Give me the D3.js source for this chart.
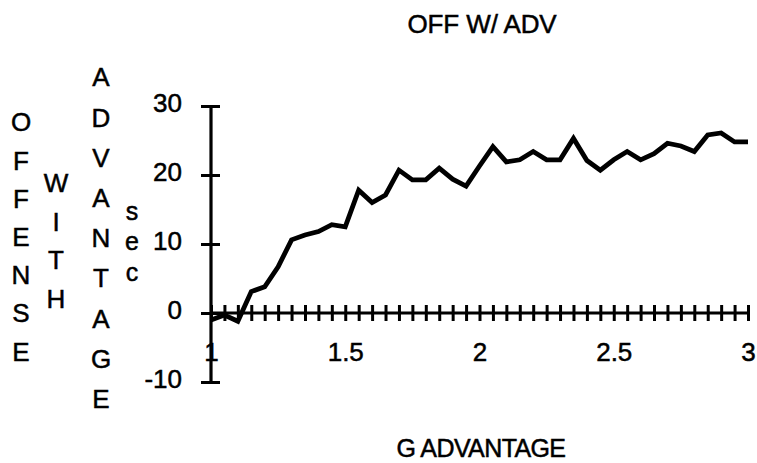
<!DOCTYPE html>
<html>
<head>
<meta charset="utf-8">
<script src="https://cdn.jsdelivr.net/npm/d3@7"></script>
<style>
  html, body { margin: 0; padding: 0; background: #fff; }
  svg text { font-family: "Liberation Sans", Arial, Helvetica, sans-serif; fill: #000; stroke: #000; stroke-width: 0.5px; }
</style>
</head>
<body>
<svg id="chart" width="757" height="463"></svg>
<script>
// G advantage sampled every 0.05 from 1 to 3
const gAdvantage = [
  1.00, 1.05, 1.10, 1.15, 1.20, 1.25, 1.30, 1.35, 1.40, 1.45,
  1.50, 1.55, 1.60, 1.65, 1.70, 1.75, 1.80, 1.85, 1.90, 1.95,
  2.00, 2.05, 2.10, 2.15, 2.20, 2.25, 2.30, 2.35, 2.40, 2.45,
  2.50, 2.55, 2.60, 2.65, 2.70, 2.75, 2.80, 2.85, 2.90, 2.95, 3.00
];
// Offense with advantage, seconds
const offenseSec = [
  -1.0, -0.3, -1.2, 3.1, 3.8, 6.7, 10.6, 11.3, 11.8, 12.8,
  12.5, 17.8, 16.0, 17.1, 20.7, 19.3, 19.3, 21.0, 19.4, 18.4,
  21.3, 24.1, 21.9, 22.2, 23.4, 22.2, 22.2, 25.3, 22.1, 20.7,
  22.2, 23.4, 22.2, 23.1, 24.6, 24.2, 23.4, 25.8, 26.1, 24.8, 24.8
];
const xLabelTicks = [1, 1.5, 2, 2.5, 3];
const yTicks = [-10, 0, 10, 20, 30];
const title = "OFF W/ ADV";
const xTitle = "G ADVANTAGE";
const yTitleColumns = ["OFFENSE", "WITH", "ADVANTAGE", "sec"];

const svg = d3.select("#chart");

const x = d3.scaleLinear().domain([1, 3]).range([211, 748]);
const y = d3.scaleLinear().domain([-10, 30]).range([382, 106]);

// X axis at zero with minor crossing ticks every 0.05
const xAxisG = svg.append("g")
  .attr("transform", `translate(0,${y(0)})`)
  .call(d3.axisBottom(x).tickValues(gAdvantage).tickSize(8).tickFormat(""));
xAxisG.select(".domain").attr("d", `M${x(1)},0H${x(3) + 2}`).attr("stroke-width", 3.2);
xAxisG.selectAll(".tick line").attr("y1", -8).attr("y2", 8).attr("stroke-width", 3);

// X tick labels below the plot
const xLabelG = svg.append("g")
  .attr("transform", `translate(0,${y(0)})`)
  .call(d3.axisBottom(x).tickValues(xLabelTicks).tickSize(0).tickPadding(30)
    .tickFormat(d => String(d)));
xLabelG.select(".domain").remove();
xLabelG.selectAll(".tick text").style("font-size", "26px");

// Y axis with ticks crossing the line
const yAxisG = svg.append("g")
  .attr("transform", `translate(${x(1)},0)`)
  .call(d3.axisLeft(y).tickValues(yTicks).tickSize(9).tickPadding(20).tickFormat(d => String(d)));
yAxisG.select(".domain").attr("d", `M0,${y(30)}V${y(-10)}`).attr("stroke-width", 3.2);
yAxisG.selectAll(".tick line").attr("x1", -10).attr("x2", 9).attr("stroke-width", 3);
yAxisG.selectAll(".tick text")
  .style("font-size", "26px")
  .attr("dy", "0.2em");

// Data line
const line = d3.line()
  .x((d, i) => x(gAdvantage[i]))
  .y(d => y(d));
svg.append("path")
  .datum(offenseSec)
  .attr("fill", "none")
  .attr("stroke", "#000")
  .attr("stroke-width", 4.8)
  .attr("stroke-linejoin", "miter")
  .attr("d", line);

// Titles
svg.append("text")
  .attr("x", 482).attr("y", 33)
  .attr("text-anchor", "middle")
  .style("font-size", "26px")
  .style("letter-spacing", "-0.1px")
  .text(title);

svg.append("text")
  .attr("x", 481).attr("y", 457)
  .attr("text-anchor", "middle")
  .style("font-size", "25px")
  .style("letter-spacing", "-0.6px")
  .text(xTitle);

// Stacked vertical y-axis title columns
const colX = [21, 56, 101, 132];
const colTop = [122, 183, 77, 213];
const colStep = [38.2, 38.5, 40.2, 30.5];
yTitleColumns.forEach((word, c) => {
  svg.append("g").selectAll("text")
    .data(word.split(""))
    .join("text")
    .attr("x", colX[c])
    .attr("y", (d, i) => colTop[c] + i * colStep[c])
    .attr("dy", c === 3 ? "0.26em" : "0.36em")
    .attr("text-anchor", "middle")
    .style("font-size", c === 3 ? "25px" : "26px")
    .text(d => d);
});
</script>
</body>
</html>
